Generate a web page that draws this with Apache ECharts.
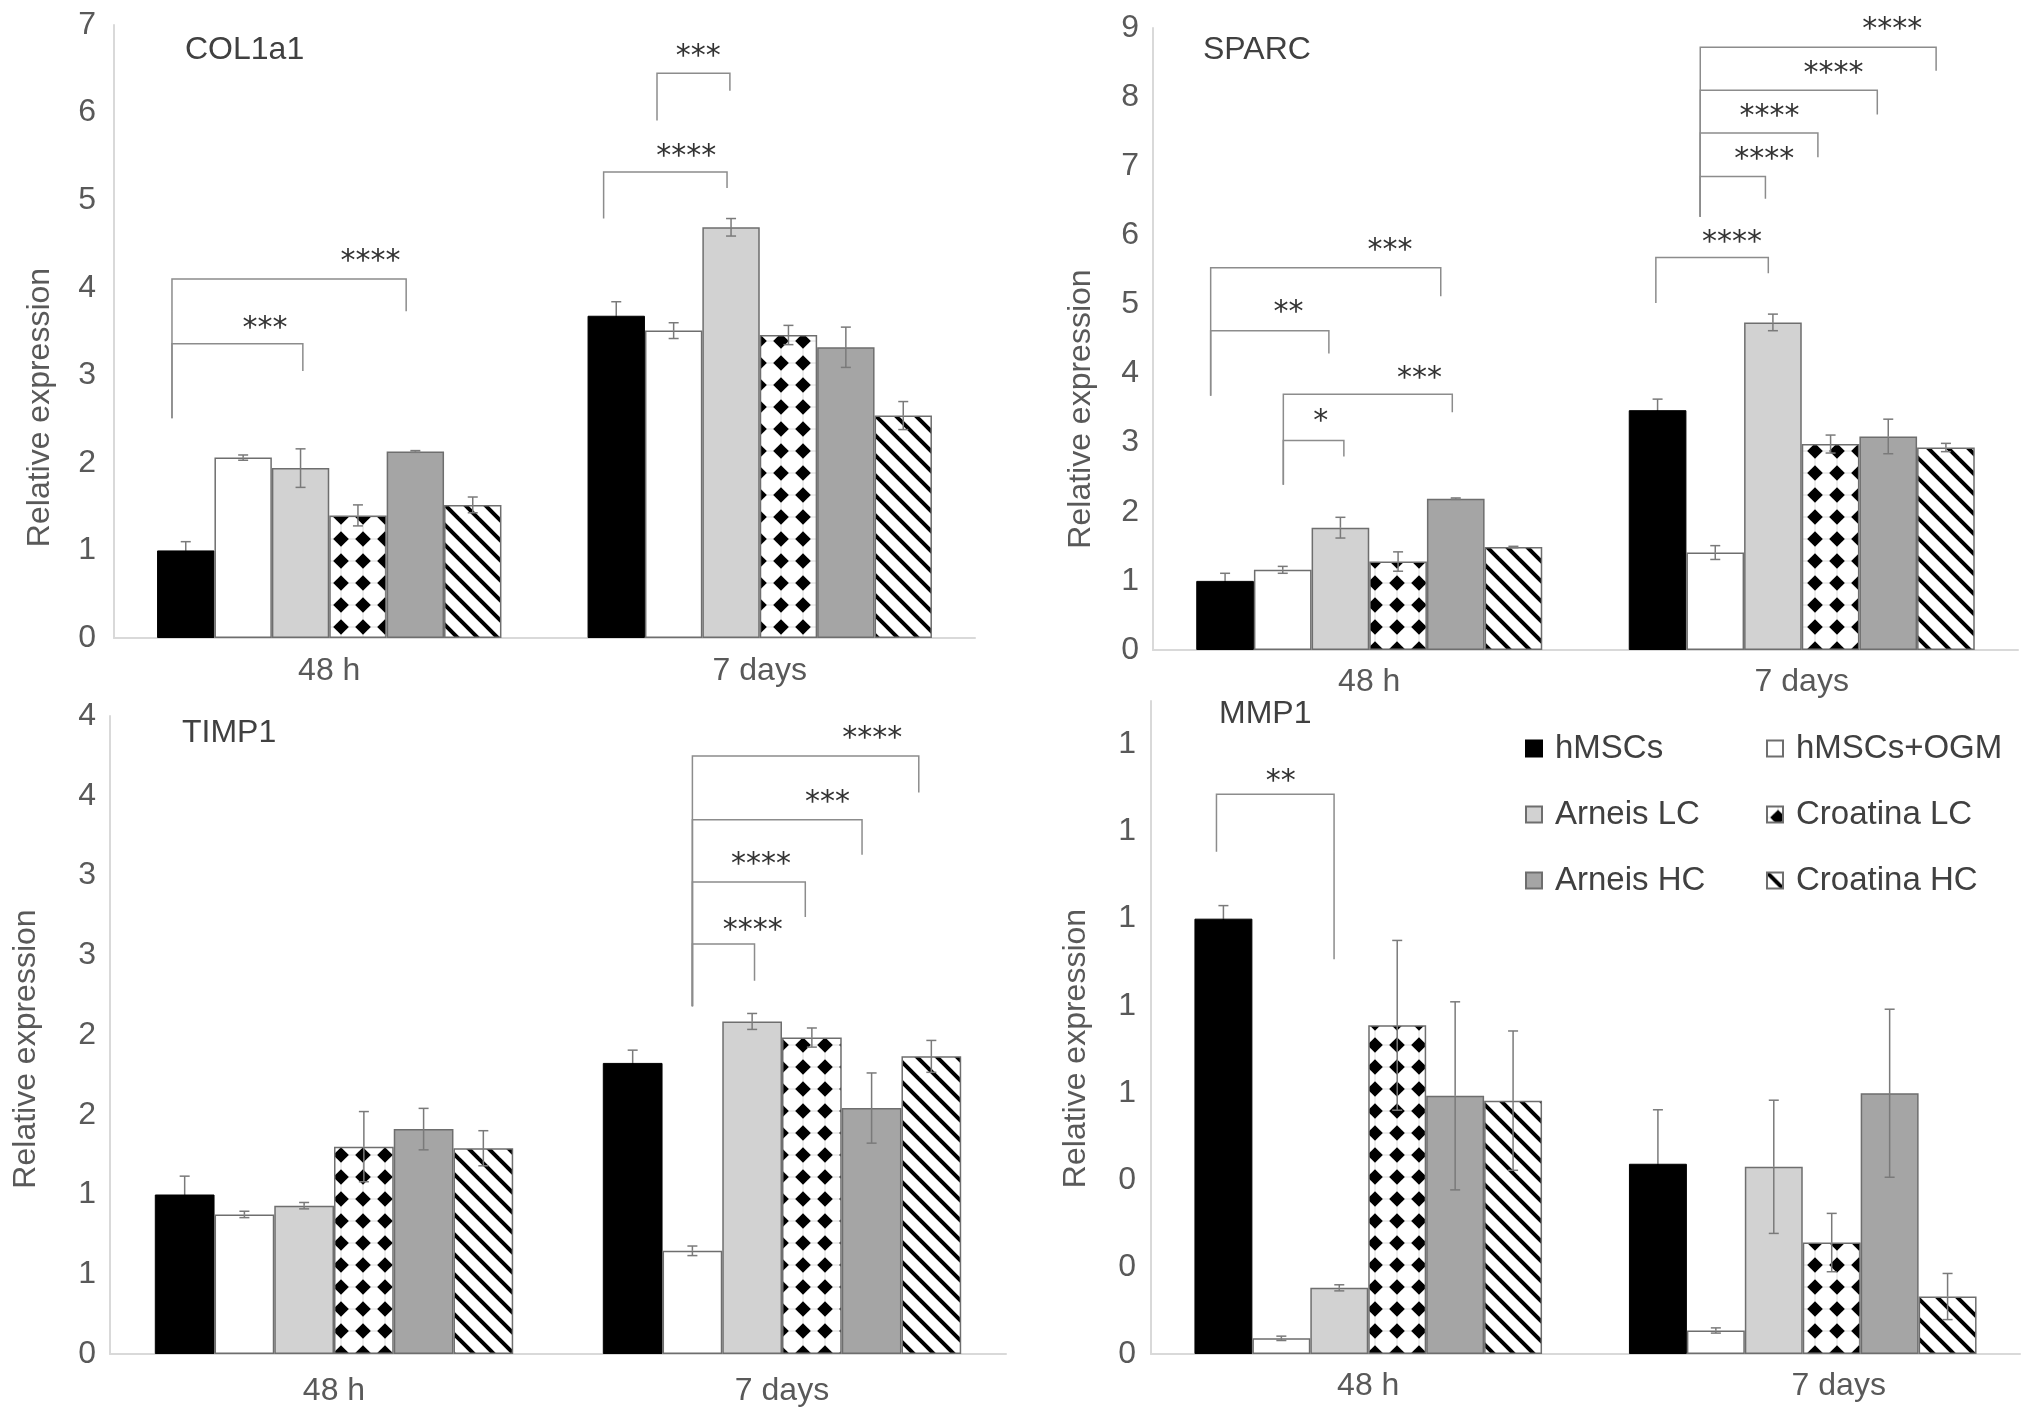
<!DOCTYPE html>
<html>
<head>
<meta charset="utf-8">
<script src="https://cdn.jsdelivr.net/npm/echarts@6/dist/echarts.min.js"></script>
<style>
html,body{margin:0;padding:0;background:#ffffff;}
#chart{width:2032px;height:1421px;}
</style>
</head>
<body>
<div id="chart"></div>
<script>
// ---------------- DATA ----------------
const categories = ['48 h', '7 days'];
const seriesNames = ['hMSCs', 'hMSCs+OGM', 'Arneis LC', 'Croatina LC', 'Arneis HC', 'Croatina HC'];

// COL1a1
const col1a1Mean48h = [1.00, 2.06, 1.94, 1.40, 2.13, 1.52];
const col1a1Err48h  = [0.10, 0.03, 0.22, 0.12, 0.01, 0.09];
const col1a1Mean7d  = [3.68, 3.51, 4.69, 3.46, 3.32, 2.54];
const col1a1Err7d   = [0.16, 0.09, 0.10, 0.11, 0.23, 0.16];
const col1a1Ticks   = ['0', '1', '2', '3', '4', '5', '6', '7'];

// SPARC
const sparcMean48h = [1.00, 1.16, 1.77, 1.28, 2.19, 1.49];
const sparcErr48h  = [0.11, 0.05, 0.15, 0.14, 0.01, 0.01];
const sparcMean7d  = [3.47, 1.41, 4.74, 2.98, 3.09, 2.93];
const sparcErr7d   = [0.16, 0.10, 0.12, 0.13, 0.25, 0.06];
const sparcTicks   = ['0', '1', '2', '3', '4', '5', '6', '7', '8', '9'];

// TIMP1
const timp1Mean48h = [1.00, 0.875, 0.93, 1.30, 1.41, 1.29];
const timp1Err48h  = [0.115, 0.02, 0.02, 0.22, 0.13, 0.11];
const timp1Mean7d  = [1.825, 0.647, 2.085, 1.984, 1.542, 1.866];
const timp1Err7d   = [0.08, 0.03, 0.05, 0.06, 0.22, 0.10];
const timp1Ticks   = ['0', '1', '1', '2', '2', '3', '3', '4', '4'];

// MMP1
const mmp1Mean48h = [1.00, 0.036, 0.152, 0.755, 0.593, 0.582];
const mmp1Err48h  = [0.03, 0.005, 0.007, 0.195, 0.216, 0.16];
const mmp1Mean7d  = [0.437, 0.054, 0.430, 0.256, 0.599, 0.132];
const mmp1Err7d   = [0.124, 0.006, 0.153, 0.067, 0.193, 0.053];
const mmp1Ticks   = ['0', '0', '0', '1', '1', '1', '1', '1'];

// Significance brackets: [category, left slot, right slot, bracket level, left end, right end, label slot, label level, label]
// slots are measured in bar widths from the left edge of the category's bar group
const col1a1Brackets = [
  [0, 0.26, 2.54, 3.36, 2.51, 3.05, 1.88, 3.59, '***'],
  [0, 0.26, 4.34, 4.10, 2.51, 3.73, 3.72, 4.36, '****'],
  [1, 0.28, 2.43, 5.32, 4.79, 5.14, 1.72, 5.56, '****'],
  [1, 1.21, 2.48, 6.45, 5.91, 6.25, 1.93, 6.70, '***']
];
const sparcBrackets = [
  [0, 0.25, 4.24, 5.53, 3.68, 5.12, 3.36, 5.85, '***'],
  [0, 0.25, 2.30, 4.62, 3.68, 4.29, 1.60, 4.96, '**'],
  [0, 1.51, 4.44, 3.70, 2.39, 3.44, 3.87, 4.01, '***'],
  [0, 1.51, 2.56, 3.03, 2.39, 2.80, 2.16, 3.39, '*'],
  [1, 0.47, 2.42, 5.68, 5.02, 5.45, 1.79, 5.97, '****'],
  [1, 1.24, 2.37, 6.85, 6.27, 6.53, 2.35, 7.18, '****'],
  [1, 1.24, 3.28, 7.48, 6.27, 7.13, 2.44, 7.80, '****'],
  [1, 1.24, 4.31, 8.10, 6.27, 7.75, 3.55, 8.42, '****'],
  [1, 1.24, 5.33, 8.72, 6.27, 8.38, 4.57, 9.05, '****']
];
const timp1Brackets = [
  [1, 1.50, 2.54, 2.57, 2.18, 2.34, 2.51, 2.69, '****'],
  [1, 1.50, 3.39, 2.96, 2.18, 2.74, 2.65, 3.10, '****'],
  [1, 1.50, 4.34, 3.35, 2.18, 3.13, 3.76, 3.49, '***'],
  [1, 1.50, 5.29, 3.75, 2.18, 3.52, 4.51, 3.89, '****']
];
const mmp1Brackets = [
  [0, 0.38, 2.41, 1.286, 1.154, 0.907, 1.49, 1.327, '**']
];

// ---------------- STYLES ----------------
function diamondPattern() {
  const n = 22, h = 11, r = 7.8;
  const c = document.createElement('canvas');
  c.width = n; c.height = n;
  const g = c.getContext('2d');
  g.fillStyle = '#ffffff'; g.fillRect(0, 0, n, n);
  g.strokeStyle = '#dcdcdc'; g.lineWidth = 1;
  g.beginPath(); g.moveTo(0, h); g.lineTo(n, h); g.moveTo(h, 0); g.lineTo(h, n); g.stroke();
  g.fillStyle = '#000000';
  g.beginPath();
  g.moveTo(h, h - r); g.lineTo(h + r, h); g.lineTo(h, h + r); g.lineTo(h - r, h);
  g.closePath(); g.fill();
  return c;
}
function hatchPattern() {
  const c = document.createElement('canvas');
  c.width = 20; c.height = 20;
  const g = c.getContext('2d');
  g.fillStyle = '#ffffff'; g.fillRect(0, 0, 20, 20);
  g.strokeStyle = '#000000'; g.lineWidth = 4;
  for (const k of [-20, 0, 20]) {
    g.beginPath(); g.moveTo(k - 2, -2); g.lineTo(k + 22, 22); g.stroke();
  }
  return c;
}
const barStyles = [
  { color: '#000000', borderColor: '#000000', borderWidth: 1 },
  { color: '#ffffff', borderColor: '#6e6e6e', borderWidth: 1.5 },
  { color: '#d2d2d2', borderColor: '#6e6e6e', borderWidth: 1.5 },
  { color: { image: diamondPattern(), repeat: 'repeat' }, borderColor: '#6e6e6e', borderWidth: 1.5 },
  { color: '#a5a5a5', borderColor: '#6e6e6e', borderWidth: 1.5 },
  { color: { image: hatchPattern(), repeat: 'repeat' }, borderColor: '#6e6e6e', borderWidth: 1.5 }
];
// colour of the lower half of each series' error bar (hidden inside the black bar)
const errLowerColors = ['#000000', '#7a7a7a', '#7a7a7a', '#7a7a7a', '#7a7a7a', '#7a7a7a'];

const FONT = 'Liberation Sans';
const TXT = '#595959';

const panels = [
  { title: 'COL1a1', m48: col1a1Mean48h, e48: col1a1Err48h, m7: col1a1Mean7d, e7: col1a1Err7d, ticks: col1a1Ticks,
    max: 7, interval: 1, brackets: col1a1Brackets,
    grid: { left: 114, top: 25, width: 861, height: 613 }, titlePos: { left: 180, top: 29 },
    nameGap: 58, nameShift: 152, labelMargin: 17, yLabelMargin: 18, cat2Pad: 0 },
  { title: 'SPARC', m48: sparcMean48h, e48: sparcErr48h, m7: sparcMean7d, e7: sparcErr7d, ticks: sparcTicks,
    max: 9, interval: 1, brackets: sparcBrackets,
    grid: { left: 1153, top: 28, width: 865, height: 622 }, titlePos: { left: 1198, top: 29 },
    nameGap: 56, nameShift: 140, labelMargin: 16, yLabelMargin: 14, cat2Pad: 0 },
  { title: 'TIMP1', m48: timp1Mean48h, e48: timp1Err48h, m7: timp1Mean7d, e7: timp1Err7d, ticks: timp1Ticks,
    max: 4, interval: 0.5, brackets: timp1Brackets,
    grid: { left: 110, top: 716, width: 896, height: 638 }, titlePos: { left: 177, top: 712 },
    nameGap: 68, nameShift: 28, labelMargin: 21, yLabelMargin: 14, cat2Pad: 0 },
  { title: 'MMP1', m48: mmp1Mean48h, e48: mmp1Err48h, m7: mmp1Mean7d, e7: mmp1Err7d, ticks: mmp1Ticks,
    max: 1.5, interval: 0.2, brackets: mmp1Brackets,
    grid: { left: 1151, top: 701, width: 869, height: 653 }, titlePos: { left: 1214, top: 693 },
    nameGap: 59, nameShift: 42, labelMargin: 16, yLabelMargin: 15, cat2Pad: 72 }
];

function groupGeom(api, cat) {
  const x0 = api.coord([0, 0])[0];
  const x1 = api.coord([1, 0])[0];
  const band = x1 - x0;
  const bw = band * 0.8 / 6;
  const cx = api.coord([cat, 0])[0];
  return { left: cx - 3 * bw, bw: bw };
}

function errRender(params, api) {
  const cat = api.value(0), s = api.value(1), m = api.value(2), e = api.value(3);
  const gg = groupGeom(api, cat);
  const x = gg.left + (s + 0.5) * gg.bw;
  const yT = api.coord([cat, m + e])[1];
  const yM = api.coord([cat, m])[1];
  const yB = api.coord([cat, m - e])[1];
  const cap = 5;
  const st = { stroke: '#7a7a7a', lineWidth: 1.5, fill: 'none' };
  const stL = { stroke: errLowerColors[s], lineWidth: 1.5, fill: 'none' };
  return {
    type: 'group',
    children: [
      { type: 'line', shape: { x1: x, y1: yT, x2: x, y2: yM }, style: st },
      { type: 'line', shape: { x1: x, y1: yM, x2: x, y2: yB }, style: stL },
      { type: 'line', shape: { x1: x - cap, y1: yT, x2: x + cap, y2: yT }, style: st },
      { type: 'line', shape: { x1: x - cap, y1: yB, x2: x + cap, y2: yB }, style: stL }
    ]
  };
}

function bracketRender(brackets) {
  return function (params, api) {
    const b = brackets[params.dataIndex];
    const gg = groupGeom(api, b[0]);
    const xL = gg.left + b[1] * gg.bw;
    const xR = gg.left + b[2] * gg.bw;
    const yT = api.coord([b[0], b[3]])[1];
    const yL = api.coord([b[0], b[4]])[1];
    const yR = api.coord([b[0], b[5]])[1];
    const tx = gg.left + b[6] * gg.bw;
    const ty = api.coord([b[0], b[7]])[1];
    return {
      type: 'group',
      children: [
        { type: 'polyline', shape: { points: [[xL, yL], [xL, yT], [xR, yT], [xR, yR]] },
          style: { stroke: '#8c8c8c', lineWidth: 1.5, fill: 'none' } },
        { type: 'text', style: { text: b[8], x: tx, y: ty + 6, align: 'center', verticalAlign: 'middle',
          fontSize: 30, fontFamily: 'DejaVu Sans', fill: '#333333' } }
      ]
    };
  };
}

const grids = [], xAxes = [], yAxes = [], series = [], titles = [];
panels.forEach(function (p, pi) {
  grids.push(Object.assign({ containLabel: false, outerBoundsMode: 'none' }, p.grid));
  titles.push({ text: p.title, left: p.titlePos.left, top: p.titlePos.top,
    textStyle: { fontSize: 32, fontWeight: 'normal', color: '#404040', fontFamily: FONT } });
  xAxes.push({
    type: 'category', gridIndex: pi,
    data: [
      { value: categories[0] },
      { value: categories[1], textStyle: { padding: [0, 0, 0, p.cat2Pad] } }
    ],
    axisLine: { show: true, lineStyle: { color: '#d9d9d9', width: 2 } },
    axisTick: { show: false },
    axisLabel: { fontSize: 32, color: TXT, fontFamily: FONT, margin: p.labelMargin },
    splitLine: { show: false }
  });
  const ticks = p.ticks, itv = p.interval;
  yAxes.push({
    type: 'value', gridIndex: pi, min: 0, max: p.max, interval: itv,
    name: 'Relative expression', nameLocation: 'middle', nameGap: p.nameGap,
    nameTextStyle: { fontSize: 32, color: TXT, fontFamily: FONT, padding: [0, p.nameShift, 0, 0] },
    axisLine: { show: true, lineStyle: { color: '#d9d9d9', width: 2 } },
    axisTick: { show: false },
    splitLine: { show: false },
    axisLabel: {
      fontSize: 32, color: TXT, fontFamily: FONT, margin: p.yLabelMargin,
      showMaxLabel: (p.max / itv) % 1 === 0,
      formatter: function (v) { const t = ticks[Math.round(v / itv)]; return t === undefined ? '' : t; }
    }
  });
  seriesNames.forEach(function (nm, si) {
    series.push({
      type: 'bar', name: nm, xAxisIndex: pi, yAxisIndex: pi,
      data: [p.m48[si], p.m7[si]],
      barGap: '0%', barCategoryGap: '20%',
      itemStyle: barStyles[si],
      emphasis: { disabled: true }, silent: true
    });
  });
  const errData = [];
  for (let s = 0; s < 6; s++) {
    errData.push([0, s, p.m48[s], p.e48[s]]);
    errData.push([1, s, p.m7[s], p.e7[s]]);
  }
  series.push({
    type: 'custom', xAxisIndex: pi, yAxisIndex: pi, z: 5, silent: true,
    renderItem: errRender, data: errData, encode: { x: 0, y: 2 }, clip: false
  });
  series.push({
    type: 'custom', xAxisIndex: pi, yAxisIndex: pi, z: 5, silent: true,
    renderItem: bracketRender(p.brackets),
    data: p.brackets.map(function (b) { return [b[0], b[3]]; }),
    encode: { x: 0, y: 1 }, clip: false
  });
});

const legendText = { fontSize: 33, color: '#404040', fontFamily: FONT, padding: [0, 0, 0, 8] };
const option = {
  animation: false,
  backgroundColor: '#ffffff',
  title: titles,
  grid: grids,
  xAxis: xAxes,
  yAxis: yAxes,
  legend: [
    { data: [seriesNames[0], seriesNames[2], seriesNames[4]], orient: 'vertical', left: 1520, top: 727,
      itemWidth: 16, itemHeight: 16, itemGap: 33, icon: 'rect', selectedMode: false, textStyle: legendText },
    { data: [seriesNames[1], seriesNames[3], seriesNames[5]], orient: 'vertical', left: 1761, top: 727,
      itemWidth: 16, itemHeight: 16, itemGap: 33, icon: 'rect', selectedMode: false, textStyle: legendText }
  ],
  series: series
};

const chart = echarts.init(document.getElementById('chart'), null, { renderer: 'canvas' });
chart.setOption(option);
</script>
</body>
</html>
